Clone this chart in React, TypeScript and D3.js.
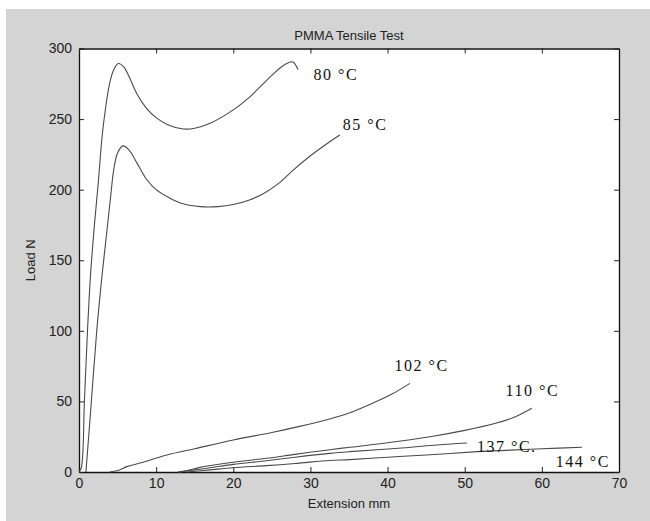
import React, { useEffect, useRef } from "react";
import {
  select,
  scaleLinear,
  axisBottom,
  axisLeft,
  axisTop,
  axisRight,
  line,
  curveCatmullRom,
} from "d3";

// [extension mm, load N]
const curve80 = [
  [0, 0], [0.3, 3], [0.7, 50], [1.1, 100], [1.5, 140], [2.0, 175], [2.5, 205],
  [3.0, 238], [3.5, 260], [4.0, 276], [4.5, 285], [5.1, 289.4], [5.8, 287],
  [6.5, 280], [7.5, 268], [8.7, 258], [10, 251], [11.5, 246], [13.5, 243],
  [15, 243.5], [17, 247], [20, 256.5], [22, 265], [23.5, 273], [25, 281],
  [26.5, 288], [27.6, 290.6], [28, 289], [28.4, 285.2],
];
const curve85 = [
  [0.9, 0], [1.6, 50], [2.3, 100], [3.0, 140], [3.6, 170], [4.1, 195],
  [4.5, 214], [5.0, 226], [5.7, 231], [6.5, 228], [7.5, 219], [8.8, 207],
  [10, 200], [11.8, 194], [13.5, 190], [15.7, 188], [18, 188], [20, 189.5],
  [22, 192.5], [24, 197.5], [26, 205], [27.8, 214], [30, 224], [32, 232],
  [33.8, 238.7],
];
const curve102 = [
  [4, 0], [5, 1], [6.2, 3.8], [8, 6.5], [11.4, 12], [15, 16.5], [20, 22.7],
  [25, 28], [28.6, 32.3], [32.5, 37.6], [35.1, 42], [37.7, 47.8], [40.5, 55],
  [42.9, 62.8],
];
const curve110 = [
  [12.8, 0], [14, 1], [15.7, 3.3], [20, 6.9], [24.3, 9.7], [28, 12.5],
  [32.5, 15.8], [35.1, 17.5], [39, 20], [45.5, 25], [50, 29.5], [54, 34.5],
  [56.5, 39], [58.7, 45.1],
];
const curve137 = [
  [13, 0], [15, 1.5], [17, 3], [20, 5.4], [24.3, 8], [28, 10.5], [32.5, 13.2],
  [35.1, 14.4], [41.4, 16.8], [46, 19], [50.3, 20.5],
];
const curve144 = [
  [14, 0], [17, 1.5], [20, 3], [24.3, 4.5], [28, 6], [32.5, 8.2], [35.1, 8.8],
  [40, 10.5], [45, 12], [51.6, 14.4], [56, 15.5], [60, 16.5], [65.2, 17.5],
];

const curveLabels = ["80 °C", "85 °C", "102 °C", "110 °C", "137 °C.", "144 °C"];
// label anchor in data units (left, baseline)
const labelPos = [
  [30.4, 278], [34.2, 242], [40.9, 71.5], [55.3, 53.5], [51.6, 14.5], [61.8, 3.5],
];

const xTicks = [0, 10, 20, 30, 40, 50, 60, 70];
const yTicks = [0, 50, 100, 150, 200, 250, 300];

const W = 650;
const H = 521;
const m = { left: 79, right: 619, top: 48.5, bottom: 472 };

const App = () => {
  const svgRef = useRef<SVGSVGElement>(null);

  useEffect(() => {
    const svg = select(svgRef.current);
    svg.selectAll("*").remove();

    svg.append("rect").attr("width", W).attr("height", H).attr("fill", "#ffffff");
    svg
      .append("rect")
      .attr("x", 6)
      .attr("y", 9)
      .attr("width", W - 6)
      .attr("height", H - 9)
      .attr("fill", "#d4d4d4");

    const x = scaleLinear().domain([0, 70]).range([m.left, m.right]);
    const y = scaleLinear().domain([0, 300]).range([m.bottom, m.top]);

    svg
      .append("rect")
      .attr("x", m.left)
      .attr("y", m.top)
      .attr("width", m.right - m.left)
      .attr("height", m.bottom - m.top)
      .attr("fill", "#ffffff");

    const font = "'Liberation Sans', Arial, sans-serif";

    const styleAxis = (g: any) => {
      g.select(".domain").attr("stroke", "#111").attr("stroke-width", 1.3);
      g.selectAll(".tick line").attr("stroke", "#222");
      g.selectAll("text")
        .attr("fill", "#222")
        .style("font-family", font)
        .style("font-size", "14px");
    };

    svg
      .append("g")
      .attr("transform", `translate(0,${m.bottom})`)
      .call(axisBottom(x).tickValues(xTicks).tickSize(-5).tickSizeOuter(0).tickPadding(6))
      .call(styleAxis);
    svg
      .append("g")
      .attr("transform", `translate(${m.left},0)`)
      .call(axisLeft(y).tickValues(yTicks).tickSize(-5).tickSizeOuter(0).tickPadding(7))
      .call(styleAxis);
    svg
      .append("g")
      .attr("transform", `translate(0,${m.top})`)
      .call(axisTop(x).tickValues(xTicks).tickSize(-5).tickSizeOuter(0).tickFormat(() => ""))
      .call(styleAxis);
    svg
      .append("g")
      .attr("transform", `translate(${m.right},0)`)
      .call(axisRight(y).tickValues(yTicks).tickSize(-5).tickSizeOuter(0).tickFormat(() => ""))
      .call(styleAxis);

    const lineGen = line<number[]>()
      .x((d) => x(d[0]))
      .y((d) => y(d[1]))
      .curve(curveCatmullRom.alpha(0.5));

    const curves = [curve80, curve85, curve102, curve110, curve137, curve144];
    svg
      .selectAll(".curve")
      .data(curves)
      .enter()
      .append("path")
      .classed("curve", true)
      .attr("d", (d) => lineGen(d))
      .attr("fill", "none")
      .attr("stroke", "#4a4a4a")
      .attr("stroke-width", 1.1);

    svg
      .selectAll(".clabel")
      .data(curveLabels)
      .enter()
      .append("text")
      .classed("clabel", true)
      .attr("x", (_, i) => x(labelPos[i][0]))
      .attr("y", (_, i) => y(labelPos[i][1]))
      .text((d) => d)
      .attr("fill", "#111")
      .style("font-family", "'Liberation Serif', 'Times New Roman', serif")
      .style("font-size", "16px")
      .style("letter-spacing", "1.5px");

    svg
      .append("text")
      .attr("x", (m.left + m.right) / 2)
      .attr("y", 40)
      .attr("text-anchor", "middle")
      .attr("fill", "#222")
      .style("font-family", font)
      .style("font-size", "13px")
      .text("PMMA Tensile Test");

    svg
      .append("text")
      .attr("x", (m.left + m.right) / 2)
      .attr("y", 508)
      .attr("text-anchor", "middle")
      .attr("fill", "#222")
      .style("font-family", font)
      .style("font-size", "13px")
      .text("Extension mm");

    svg
      .append("text")
      .attr("transform", `translate(35,${(m.top + m.bottom) / 2}) rotate(-90)`)
      .attr("text-anchor", "middle")
      .attr("fill", "#222")
      .style("font-family", font)
      .style("font-size", "13px")
      .text("Load N");
  }, []);

  return (
    <svg
      ref={svgRef}
      width={W}
      height={H}
      style={{ position: "absolute", left: 0, top: 0 }}
    />
  );
};

export default App;
